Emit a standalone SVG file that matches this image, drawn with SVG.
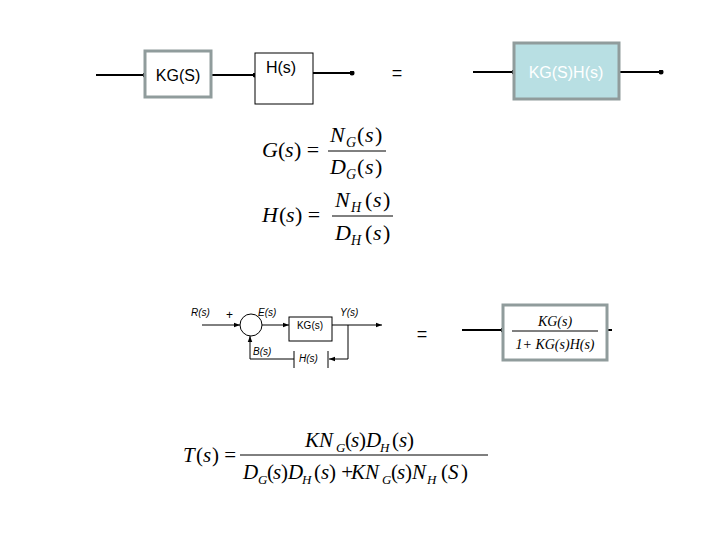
<svg xmlns="http://www.w3.org/2000/svg" width="720" height="540" viewBox="0 0 720 540">
<style>
.ln{stroke:#000;stroke-width:2;fill:none}
.th{stroke:#000;stroke-width:1;fill:none}
.s{font-family:"Liberation Sans",sans-serif}
.m{font-family:"Liberation Serif",serif;font-style:italic}
.r{font-family:"Liberation Serif",serif}
</style>
<defs>
<marker id="d" viewBox="0 0 6 6" refX="3" refY="3" markerWidth="2.5" markerHeight="2.5"><circle cx="3" cy="3" r="3" fill="#000"/></marker>
<marker id="a" viewBox="0 0 8 8" refX="8" refY="4" markerWidth="6" markerHeight="6" markerUnits="userSpaceOnUse" orient="auto"><path d="M0,1 L8,4 L0,7z" fill="#000"/></marker>
</defs>
<g id="connectors">
<line class="ln" x1="96" y1="75" x2="145" y2="75" marker-end="url(#d)"/>
<line class="ln" x1="211" y1="75" x2="255" y2="75" marker-end="url(#d)"/>
<line class="ln" x1="305" y1="73" x2="352" y2="73" marker-end="url(#d)"/>
<line class="ln" x1="473" y1="72" x2="514" y2="72" marker-end="url(#d)"/>
<line class="ln" x1="619" y1="72" x2="661" y2="72" marker-end="url(#d)"/>
<line class="ln" x1="462" y1="330" x2="503" y2="330" marker-end="url(#d)"/>
<line class="ln" x1="607" y1="330" x2="612" y2="330"/>
<line class="th" x1="202" y1="325" x2="240" y2="325" marker-end="url(#a)"/>
<line class="th" x1="262" y1="325" x2="289" y2="325" marker-end="url(#a)"/>
<line class="th" x1="332" y1="325" x2="382" y2="325" marker-end="url(#a)"/>
<polyline class="th" points="348,325 348,359 329,359" marker-end="url(#a)"/>
<polyline class="th" points="294,359 250,359 250,336" marker-end="url(#a)"/>
</g>
<g id="kg"><rect x="145" y="51" width="66" height="46" fill="#fff" stroke="#909c9c" stroke-width="3"/><text x="178" y="81" class="s" font-size="16" text-anchor="middle">KG(S)</text></g>
<g id="h"><rect x="255" y="53" width="58" height="51" fill="#fff" stroke="#000"/><text x="281" y="73" class="s" font-size="16" text-anchor="middle">H(s)</text></g>
<text x="397" y="79" class="s" font-size="18" text-anchor="middle">=</text>
<g id="kgh"><rect x="514" y="43" width="105" height="56" fill="#b8dfe3" stroke="#909c9c" stroke-width="3"/><text x="566" y="78" class="s" font-size="16" fill="#fff" text-anchor="middle">KG(S)H(s)</text></g>
<g id="eqG" font-size="22">
<text x="262" y="157" class="m">G</text><text x="278" y="157" class="r">(</text><text x="285" y="157" class="m">s</text><text x="294" y="157" class="r">) =</text>
<text x="330" y="142" class="m">N</text><text x="346" y="147" class="m" font-size="14">G</text><text x="357" y="142" class="r">(</text><text x="365" y="142" class="m">s</text><text x="375" y="142" class="r">)</text>
<line x1="328" y1="151" x2="386" y2="151" stroke="#000"/>
<text x="330" y="174" class="m">D</text><text x="346" y="179" class="m" font-size="14">G</text><text x="357" y="174" class="r">(</text><text x="365" y="174" class="m">s</text><text x="375" y="174" class="r">)</text>
</g>
<g id="eqH" font-size="22">
<text x="262" y="222" class="m">H</text><text x="279" y="222" class="r">(</text><text x="286" y="222" class="m">s</text><text x="295" y="222" class="r">) =</text>
<text x="335" y="207" class="m">N</text><text x="351" y="212" class="m" font-size="14">H</text><text x="365" y="207" class="r">(</text><text x="373" y="207" class="m">s</text><text x="383" y="207" class="r">)</text>
<line x1="332" y1="216" x2="393" y2="216" stroke="#000"/>
<text x="335" y="240" class="m">D</text><text x="351" y="245" class="m" font-size="14">H</text><text x="365" y="240" class="r">(</text><text x="373" y="240" class="m">s</text><text x="383" y="240" class="r">)</text>
</g>
<g id="loop" font-size="10">
<text x="191" y="316" class="s" font-style="italic">R(s)</text>
<text x="226" y="319" class="s" font-size="12">+</text>
<circle cx="251" cy="325" r="11" fill="#fff" stroke="#000"/>
<text x="258" y="316" class="s" font-style="italic">E(s)</text>
<rect x="289" y="317" width="43" height="24" fill="#fff" stroke="#000"/>
<text x="310" y="329" class="s" text-anchor="middle">KG(s)</text>
<text x="340" y="316" class="s" font-style="italic">Y(s)</text>
<line class="th" x1="294" y1="351" x2="294" y2="368"/><line class="th" x1="328" y1="351" x2="328" y2="368"/>
<text x="299" y="362" class="s" font-style="italic">H(s)</text>
<text x="253" y="355" class="s" font-style="italic">B(s)</text>
</g>
<text x="422" y="340" class="s" font-size="18" text-anchor="middle">=</text>
<g id="cl"><rect x="503" y="305" width="104" height="55" fill="#fff" stroke="#909c9c" stroke-width="3"/>
<text x="555" y="326" class="m" font-size="14" text-anchor="middle">KG(s)</text>
<line x1="512" y1="331" x2="598" y2="331" stroke="#000"/>
<text x="555" y="349" class="m" font-size="14" text-anchor="middle">1+ KG(s)H(s)</text></g>
<g id="eqT" font-size="21">
<text x="183" y="462" class="m">T</text><text x="196" y="462" class="r">(</text><text x="203" y="462" class="m">s</text><text x="212" y="462" class="r">) =</text>
<text x="305" y="447" class="m">KN</text><text x="336" y="452" class="m" font-size="13">G</text><text x="345" y="447" class="r">(</text><text x="351" y="447" class="m">s</text><text x="359" y="447" class="r">)</text><text x="366" y="447" class="m">D</text><text x="380" y="452" class="m" font-size="13">H</text><text x="392" y="447" class="r">(</text><text x="399" y="447" class="m">s</text><text x="407" y="447" class="r">)</text>
<line x1="240" y1="455" x2="488" y2="455" stroke="#000"/>
<text x="243" y="479" class="m">D</text><text x="258" y="484" class="m" font-size="13">G</text><text x="267" y="479" class="r">(</text><text x="273" y="479" class="m">s</text><text x="281" y="479" class="r">)</text><text x="288" y="479" class="m">D</text><text x="302" y="484" class="m" font-size="13">H</text><text x="314" y="479" class="r">(</text><text x="321" y="479" class="m">s</text><text x="329" y="479" class="r">) +</text><text x="351" y="479" class="m">KN</text><text x="382" y="484" class="m" font-size="13">G</text><text x="391" y="479" class="r">(</text><text x="397" y="479" class="m">s</text><text x="405" y="479" class="r">)</text><text x="412" y="479" class="m">N</text><text x="427" y="484" class="m" font-size="13">H</text><text x="441" y="479" class="r">(</text><text x="448" y="479" class="m">S</text><text x="461" y="479" class="r">)</text>
</g>
</svg>
